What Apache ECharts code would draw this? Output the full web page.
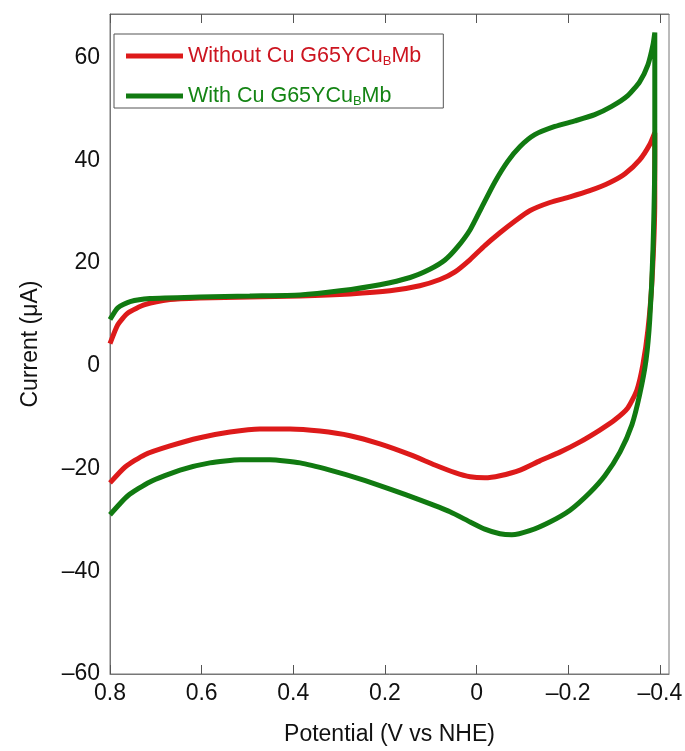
<!DOCTYPE html>
<html>
<head>
<meta charset="utf-8">
<script src="https://cdn.jsdelivr.net/npm/echarts@6/dist/echarts.min.js"></script>
<style>
  html, body { margin: 0; padding: 0; background: #fff; }
  #chart { width: 685px; height: 751px; }
</style>
</head>
<body>
<div id="chart"></div>
<script>
// potential (V vs NHE), current (uA) -- loop: upper branch then lower branch
var redUpperV = [0.8, 0.783, 0.761, 0.724, 0.669, 0.604, 0.495, 0.385, 0.276, 0.189, 0.124, 0.080, 0.047, 0.014, -0.018, -0.051, -0.084, -0.116, -0.160, -0.204, -0.247, -0.291, -0.324, -0.356, -0.378, -0.389];
var redUpperI = [4.3, 8.0, 10.3, 11.9, 12.9, 13.2, 13.4, 13.6, 14.0, 14.6, 15.6, 16.8, 18.3, 20.7, 23.4, 25.9, 28.2, 30.2, 31.8, 32.9, 34.1, 35.7, 37.4, 40.1, 43.1, 45.4];
var redLowerV = [-0.389, -0.383, -0.374, -0.363, -0.350, -0.330, -0.302, -0.269, -0.226, -0.182, -0.138, -0.095, -0.051, -0.018, 0.014, 0.047, 0.091, 0.145, 0.211, 0.276, 0.342, 0.407, 0.473, 0.538, 0.604, 0.669, 0.724, 0.767, 0.8];
var redLowerI = [32.3, 16.8, 7.0, 0.2, -4.7, -8.2, -10.5, -12.5, -14.8, -16.8, -18.5, -20.3, -21.4, -21.8, -21.6, -20.8, -19.3, -17.3, -15.2, -13.6, -12.7, -12.3, -12.3, -12.9, -14.0, -15.6, -17.3, -19.7, -22.8];

var greenUpperV = [0.8, 0.783, 0.756, 0.713, 0.604, 0.495, 0.385, 0.298, 0.211, 0.145, 0.102, 0.069, 0.041, 0.014, -0.012, -0.040, -0.068, -0.095, -0.127, -0.171, -0.215, -0.258, -0.295, -0.330, -0.356, -0.374, -0.385, -0.389];
var greenUpperI = [9.0, 11.3, 12.5, 13.1, 13.4, 13.6, 13.8, 14.6, 15.8, 17.2, 18.8, 20.6, 23.2, 26.5, 31.0, 35.8, 39.8, 42.7, 45.0, 46.6, 47.7, 48.9, 50.5, 52.6, 55.3, 58.6, 62.5, 64.9];
var greenLowerV = [-0.389, -0.385, -0.378, -0.370, -0.356, -0.339, -0.313, -0.280, -0.247, -0.204, -0.160, -0.116, -0.077, -0.051, -0.018, 0.014, 0.058, 0.124, 0.189, 0.255, 0.320, 0.385, 0.451, 0.516, 0.582, 0.647, 0.713, 0.761, 0.8];
var greenLowerI = [42.1, 22.6, 9.0, 1.2, -5.6, -11.5, -16.8, -21.4, -24.7, -28.1, -30.4, -32.1, -32.9, -32.7, -31.8, -30.4, -28.4, -26.1, -24.0, -22.0, -20.3, -18.9, -18.3, -18.3, -18.9, -20.3, -22.6, -25.3, -29.0];

var xTicks = [0.8, 0.6, 0.4, 0.2, 0, -0.2, -0.4];
var yTicks = [-60, -40, -20, 0, 20, 40, 60];
var seriesNames = ['Without Cu G65YCuBMb', 'With Cu G65YCuBMb'];

function loop(v1, i1, v2, i2){
    var pts = [];
    for(var k = 0; k < v1.length; k++) pts.push([v1[k], i1[k]]);
    for(var k = 0; k < v2.length; k++) pts.push([v2[k], i2[k]]);
    return pts;
}
function dash(v){ return String(v).replace('-', '\u2013'); }

var font = '"Liberation Sans", Arial, sans-serif';
var axisColor = '#777';
var red = '#dd1a1a', green = '#117a11';
var redText = '#cc1520', greenText = '#148414';

var option = {
    animation: false,
    grid: {left: 110, right: 16, top: 14, bottom: 77, outerBoundsMode: 'none', show: true, borderColor: axisColor, borderWidth: 1},
    legend: {
        orient: 'vertical', left: 114, top: 34,
        borderColor: '#555', borderWidth: 1, padding: [11, 22, 0, 12],
        itemWidth: 57, itemHeight: 5, itemGap: 17, itemTextGap: 6, icon: 'rect',
        data: seriesNames,
        formatter: function(name){
            var s = name === seriesNames[0] ? 'r' : 'g';
            var head = name === seriesNames[0] ? 'Without Cu G65YCu' : 'With Cu G65YCu';
            return '{' + s + '|' + head + '}{' + s + 's|B}{' + s + '|Mb}';
        },
        textStyle: {
            fontFamily: font,
            rich: {
                r: {color: redText, fontSize: 21.5, fontFamily: font, lineHeight: 24},
                rs: {color: redText, fontSize: 13, fontFamily: font, lineHeight: 24, verticalAlign: 'bottom', padding: [9, 0, 0, 0]},
                g: {color: greenText, fontSize: 21.5, fontFamily: font, lineHeight: 24},
                gs: {color: greenText, fontSize: 13, fontFamily: font, lineHeight: 24, verticalAlign: 'bottom', padding: [9, 0, 0, 0]}
            }
        }
    },
    xAxis: [{
        type: 'value', inverse: true, min: -0.42, max: 0.8,
        name: 'Potential (V vs NHE)', nameLocation: 'middle', nameGap: 49,
        nameTextStyle: {fontFamily: font, fontSize: 23, color: '#111'},
        axisLine: {onZero: false, lineStyle: {color: axisColor}},
        axisTick: {inside: true, length: 9, lineStyle: {color: '#555'}, customValues: xTicks},
        axisLabel: {fontFamily: font, fontSize: 23, color: '#111', margin: 8, customValues: xTicks, formatter: dash},
        splitLine: {show: false}
    }, {
        type: 'value', inverse: true, min: -0.42, max: 0.8, position: 'top',
        axisLine: {onZero: false, lineStyle: {color: axisColor}},
        axisTick: {inside: true, length: 9, lineStyle: {color: '#555'}, customValues: xTicks},
        axisLabel: {show: false},
        splitLine: {show: false}
    }],
    yAxis: {
        type: 'value', min: -60, max: 68.5,
        name: 'Current (\u03bcA)', nameLocation: 'middle', nameGap: 68,
        nameTextStyle: {fontFamily: font, fontSize: 23, color: '#111'},
        axisLine: {show: true, onZero: false, lineStyle: {color: axisColor}},
        axisTick: {show: false},
        axisLabel: {fontFamily: font, fontSize: 23, color: '#111', margin: 10, customValues: yTicks, formatter: dash},
        splitLine: {show: false}
    },
    series: [{
        name: seriesNames[0], type: 'line', showSymbol: false, smooth: 0.2,
        color: red, lineStyle: {width: 5, color: red},
        data: loop(redUpperV, redUpperI, redLowerV, redLowerI)
    }, {
        name: seriesNames[1], type: 'line', showSymbol: false, smooth: 0.2,
        color: green, lineStyle: {width: 5, color: green},
        data: loop(greenUpperV, greenUpperI, greenLowerV, greenLowerI)
    }]
};
echarts.init(document.getElementById('chart')).setOption(option);
</script>
</body>
</html>
